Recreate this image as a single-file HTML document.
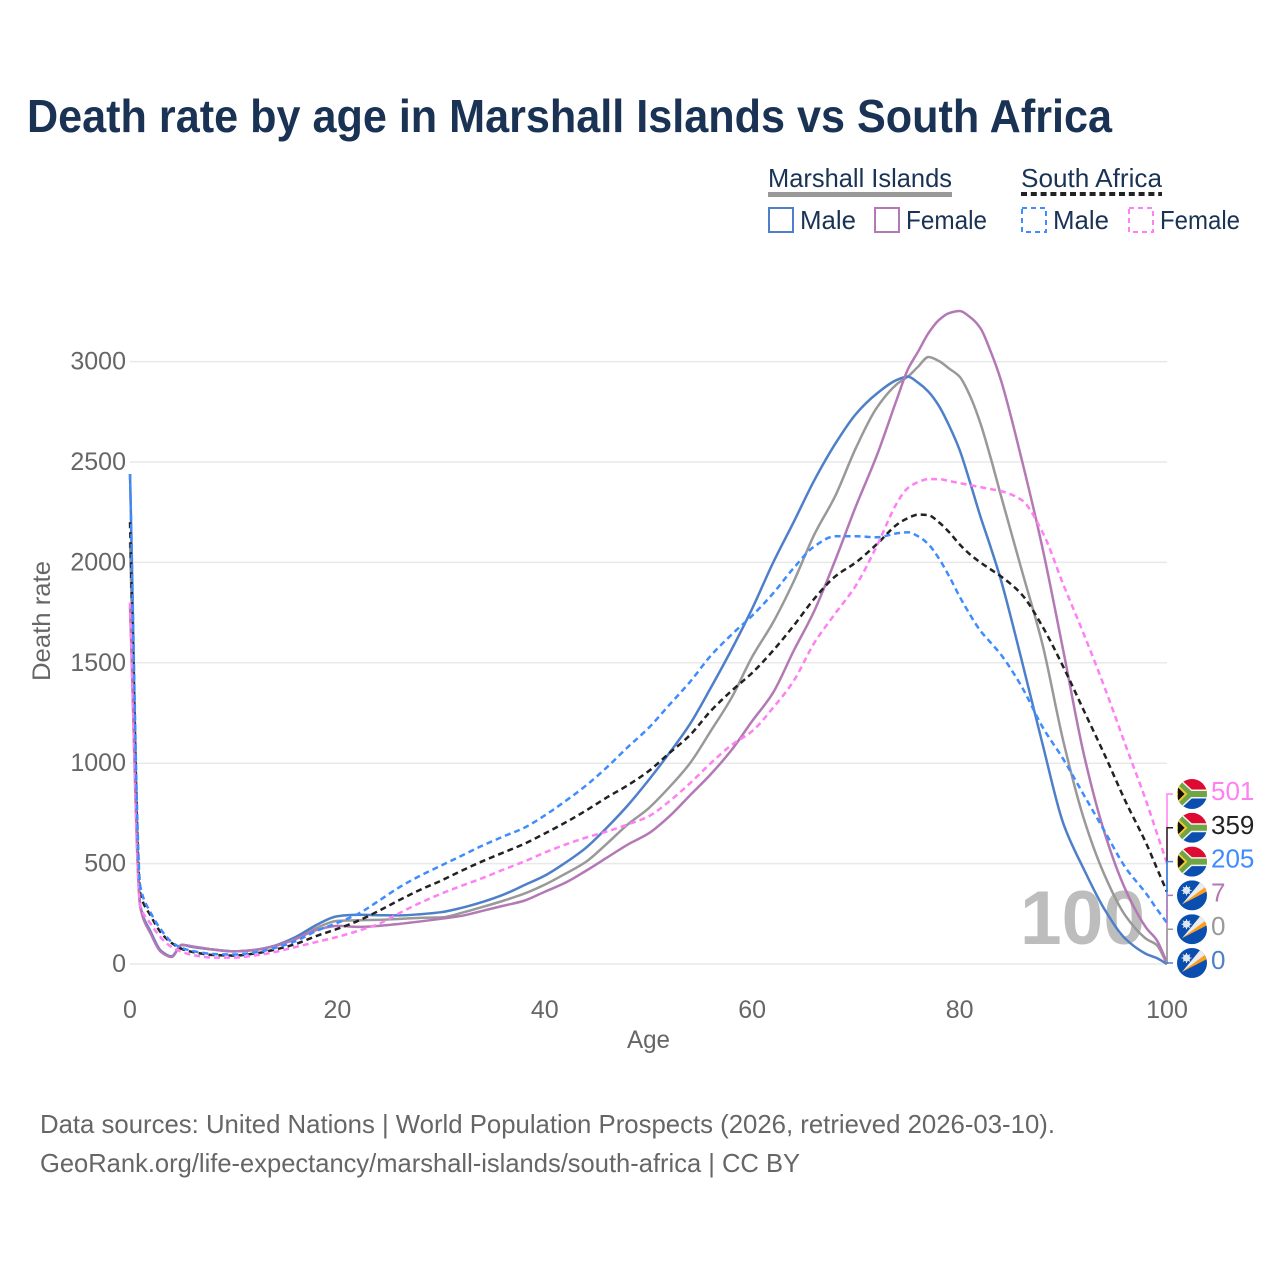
<!DOCTYPE html>
<html lang="en">
<head>
<meta charset="utf-8">
<title>Death rate by age in Marshall Islands vs South Africa</title>
<style>
html,body{margin:0;padding:0;background:#fff;width:1280px;height:1280px;overflow:hidden}
svg{display:block}
text{font-family:"Liberation Sans",sans-serif}
</style>
</head>
<body>
<svg id="chart" xmlns="http://www.w3.org/2000/svg" width="1280" height="1280" viewBox="0 0 1280 1280">
  <defs>
    <clipPath id="flag-clip"><circle cx="0" cy="0" r="15"/></clipPath>
    <g id="flag-za">
      <g clip-path="url(#flag-clip)">
        <rect x="-15" y="-15" width="30" height="15" fill="#de0a32"/>
        <rect x="-15" y="0" width="30" height="15" fill="#0a4fb0"/>
        <path d="M-17,-14 L-2,0 L16,0 M-17,14 L-2,0" fill="none" stroke="#f4f4f4" stroke-width="9"/>
        <path d="M-17,-14 L-2,0 L16,0 M-17,14 L-2,0" fill="none" stroke="#6fa544" stroke-width="6"/>
        <path d="M-15,-9 L-6,0 L-15,9 Z" fill="#111" stroke="#f6c631" stroke-width="2"/>
      </g>
    </g>
    <g id="flag-mh">
      <g clip-path="url(#flag-clip)">
        <rect x="-15" y="-15" width="30" height="30" fill="#0a4fb0"/>
        <path d="M-10,9 L9,-14 L14,-8 Z" fill="#ececec"/>
        <path d="M-10,9 L14,-9 L15,-4 Z" fill="#fb9f1f"/>
        <circle cx="-5.500" cy="-5" r="3.600" fill="#e0e6f2"/>
        <path d="M-5.500,-10 L-5.500,0 M-10.500,-5 L-0.500,-5 M-9,-8.500 L-2,-1.500 M-2,-8.500 L-9,-1.500" stroke="#e0e6f2" stroke-width="1"/>
      </g>
    </g>
  </defs>

  <text x="27" y="132" font-size="46" font-weight="700" fill="#1a3354" textLength="1085" lengthAdjust="spacingAndGlyphs">Death rate by age in Marshall Islands vs South Africa</text>

  <g fill="#1a3354" font-size="26">
    <text x="768" y="187" textLength="184" lengthAdjust="spacingAndGlyphs">Marshall Islands</text>
    <rect x="768" y="192" width="184" height="5" fill="#999999"/>
    <rect x="769" y="208" width="24" height="24" fill="none" stroke="#4e7fc9" stroke-width="2"/>
    <text x="800" y="229" textLength="56" lengthAdjust="spacingAndGlyphs">Male</text>
    <rect x="875" y="208" width="24" height="24" fill="none" stroke="#b379b5" stroke-width="2"/>
    <text x="906" y="229" textLength="81" lengthAdjust="spacingAndGlyphs">Female</text>

    <text x="1021" y="187" textLength="141" lengthAdjust="spacingAndGlyphs">South Africa</text>
    <line x1="1021" y1="194" x2="1162" y2="194" stroke="#222" stroke-width="4" stroke-dasharray="6 3.800"/>
    <rect x="1022" y="208" width="24" height="24" fill="none" stroke="#3f8cff" stroke-width="2" stroke-dasharray="5 4"/>
    <text x="1053" y="229" textLength="56" lengthAdjust="spacingAndGlyphs">Male</text>
    <rect x="1129" y="208" width="24" height="24" fill="none" stroke="#ff80f2" stroke-width="2" stroke-dasharray="5 4"/>
    <text x="1160" y="229" textLength="80" lengthAdjust="spacingAndGlyphs">Female</text>
  </g>

  <g id="grid"></g>
  <g id="y-ticks"></g>
  <g id="x-ticks"></g>

  <text x="0" y="0" transform="translate(50 681) rotate(-90)" font-size="25" fill="#666666" textLength="120" lengthAdjust="spacingAndGlyphs">Death rate</text>
  <text x="627" y="1048" font-size="25" fill="#666666" textLength="43" lengthAdjust="spacingAndGlyphs">Age</text>

  <text x="1020" y="944" font-size="76" font-weight="700" fill="#bdbdbd" textLength="125" lengthAdjust="spacingAndGlyphs">100</text>

  <g id="series" fill="none"></g>
  <g id="end-labels"></g>

  <g fill="#666666" font-size="26">
    <text x="40" y="1133" textLength="1015" lengthAdjust="spacingAndGlyphs">Data sources: United Nations | World Population Prospects (2026, retrieved 2026-03-10).</text>
    <text x="40" y="1172" textLength="760" lengthAdjust="spacingAndGlyphs">GeoRank.org/life-expectancy/marshall-islands/south-africa | CC BY</text>
  </g>
</svg>

<script>
const ages = [0,1,2,3,4,5,6,8,10,12,14,16,18,20,22,24,26,28,30,32,34,36,38,40,42,44,46,48,50,52,54,56,58,60,62,64,66,68,70,72,74,75,76,77,78,79,80,81,82,83,84,86,88,90,92,94,96,98,99,100];
const marshallMale = [2440,290,160,65,38,95,85,72,63,70,92,135,195,238,245,243,242,248,258,280,309,345,392,440,505,580,680,790,915,1050,1195,1375,1565,1770,1997,2201,2410,2590,2739,2840,2910,2925,2895,2850,2780,2680,2560,2400,2230,2075,1910,1510,1095,700,470,270,125,50,30,0];
const marshallFemale = [1780,280,150,60,35,95,88,72,63,70,90,125,170,190,185,190,200,212,225,240,265,290,315,360,405,465,530,595,650,735,840,945,1065,1210,1350,1560,1760,2010,2280,2530,2820,2960,3050,3142,3207,3242,3252,3222,3167,3050,2905,2510,2070,1560,1040,650,370,180,120,7];
const marshallTotal = [2100,285,155,62,36,95,86,72,63,70,90,128,180,215,218,220,225,230,232,255,284,315,350,395,450,510,600,695,775,880,1000,1160,1325,1530,1700,1905,2140,2330,2570,2769,2890,2925,2975,3023,3003,2965,2925,2830,2694,2520,2330,1960,1590,1110,720,440,240,125,95,0];
const southAfricaTotal = [2200,350,240,155,105,75,60,45,42,52,72,100,140,175,215,265,319,370,415,465,512,555,598,650,705,765,830,890,960,1050,1140,1260,1360,1450,1560,1685,1820,1930,2000,2090,2190,2220,2238,2235,2200,2150,2090,2040,2000,1965,1930,1840,1680,1480,1260,1040,810,600,480,359];
const southAfricaMale = [2440,385,255,170,110,80,65,50,47,57,80,115,165,205,250,315,383,440,490,540,590,635,678,740,812,890,980,1080,1175,1290,1405,1535,1640,1735,1845,1972,2080,2130,2130,2125,2145,2150,2130,2090,2020,1930,1830,1740,1660,1600,1540,1380,1180,1020,840,660,480,350,275,205];
const southAfricaFemale = [1800,290,200,130,85,60,45,32,32,42,60,85,110,135,165,200,254,305,350,390,428,470,510,555,595,630,660,695,735,810,900,1000,1090,1160,1275,1410,1600,1745,1885,2080,2300,2370,2400,2415,2415,2405,2395,2385,2375,2365,2355,2310,2150,1890,1640,1375,1090,810,655,501];
const yTickValues = [0,500,1000,1500,2000,2500,3000];
const xTickValues = [0,20,40,60,80,100];

const NS = 'http://www.w3.org/2000/svg';
const xScale = a => 130 + a * 10.37;
const yScale = v => 964 - v * 0.2008;

function make(tag, props, parent) {
  const node = document.createElementNS(NS, tag);
  for (const k in props) node.setAttribute(k, props[k]);
  parent.appendChild(node);
  return node;
}

function monotonePath(xs, ys) {
  const n = xs.length, d = [], t = [];
  for (let i = 0; i < n - 1; i++) d.push((ys[i + 1] - ys[i]) / (xs[i + 1] - xs[i]));
  t[0] = d[0];
  t[n - 1] = d[n - 2];
  for (let i = 1; i < n - 1; i++) {
    t[i] = d[i - 1] * d[i] <= 0 ? 0 : 2 * d[i - 1] * d[i] / (d[i - 1] + d[i]);
  }
  let p = 'M' + xs[0].toFixed(2) + ',' + ys[0].toFixed(2);
  for (let i = 0; i < n - 1; i++) {
    const h = (xs[i + 1] - xs[i]) / 3;
    p += 'C' + (xs[i] + h).toFixed(2) + ',' + (ys[i] + t[i] * h).toFixed(2) + ' ' +
         (xs[i + 1] - h).toFixed(2) + ',' + (ys[i + 1] - t[i + 1] * h).toFixed(2) + ' ' +
         xs[i + 1].toFixed(2) + ',' + ys[i + 1].toFixed(2);
  }
  return p;
}

const gridGroup = document.getElementById('grid');
const yTickGroup = document.getElementById('y-ticks');
const xTickGroup = document.getElementById('x-ticks');
const seriesGroup = document.getElementById('series');
const endGroup = document.getElementById('end-labels');

yTickValues.forEach(v => {
  const line = make('line', {x1: 130, x2: 1167, y1: yScale(v), y2: yScale(v), stroke: '#e9e9e9', 'stroke-width': 1.5}, gridGroup);
  
  
  const label = make('text', {x: 126, y: yScale(v) + 8, 'text-anchor': 'end', 'font-size': 25, fill: '#666666'}, yTickGroup);
  
  
  label.textContent = v;
});

xTickValues.forEach(v => {
  const label = make('text', {x: xScale(v), y: 1018, 'text-anchor': 'middle', 'font-size': 25, fill: '#666666'}, xTickGroup);
  
  
  label.textContent = v;
});

function drawLine(values, color, dash, name) {
  const path = make('path', {
    d: monotonePath(ages.map(xScale), values.map(yScale)),
    stroke: color,
    'stroke-width': 2.5,
    'stroke-dasharray': dash,
    'stroke-linejoin': 'round'
  }, seriesGroup);
  
  
}

drawLine(marshallTotal, '#999999', 'none', 'line-marshall-total');
drawLine(marshallMale, '#4e7fc9', 'none', 'line-marshall-male');
drawLine(marshallFemale, '#b379b5', 'none', 'line-marshall-female');
drawLine(southAfricaTotal, '#222222', '6 4', 'line-south-africa-total');
drawLine(southAfricaFemale, '#ff80f2', '6 4', 'line-south-africa-female');
drawLine(southAfricaMale, '#3f8cff', '6 4', 'line-south-africa-male');

function drawEnd(slot, values, color, flag, name) {
  const endValue = values[values.length - 1];
  const labelY = 963 - slot * 33.8;
  const conn = make('path', {
    d: 'M1167,' + yScale(endValue) + 'L1167,' + labelY + 'L1173,' + labelY,
    fill: 'none', stroke: color, 'stroke-width': 1.5
  }, endGroup);
  
  
  const icon = make('use', {href: flag, transform: 'translate(1192 ' + labelY + ')'}, endGroup);
  
  
  const label = make('text', {x: 1211, y: labelY + 6, 'font-size': 26, fill: color}, endGroup);
  
  
  label.textContent = endValue;
}

drawEnd(5, southAfricaFemale, '#ff80f2', '#flag-za', 'end-south-africa-female');
drawEnd(4, southAfricaTotal, '#222222', '#flag-za', 'end-south-africa-total');
drawEnd(3, southAfricaMale, '#3f8cff', '#flag-za', 'end-south-africa-male');
drawEnd(2, marshallFemale, '#b379b5', '#flag-mh', 'end-marshall-female');
drawEnd(1, marshallTotal, '#999999', '#flag-mh', 'end-marshall-total');
drawEnd(0, marshallMale, '#4e7fc9', '#flag-mh', 'end-marshall-male');
</script>
</body>
</html>
